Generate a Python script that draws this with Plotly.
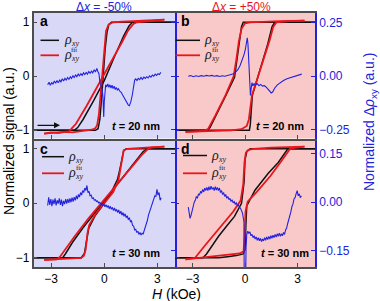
import plotly.graph_objects as go

# ---------------- data (H in kOe, normalized signal) ----------------
H_TICKS = [-3, 0, 3]
H_TICKTEXT = ["\u22123", "0", "3"]
LEFT_TICKS = [-1, 0, 1]
LEFT_TICKTEXT = ["\u22121", "0", "1"]
TOP_RIGHT_TICKS = [-0.25, 0.0, 0.25]
TOP_RIGHT_TICKTEXT = ["\u22120.25", "0.00", "0.25"]
BOT_RIGHT_TICKS = [-0.15, 0.0, 0.15]
BOT_RIGHT_TICKTEXT = ["\u22120.15", "0.00", "0.15"]

# panel a (t = 20 nm, dx = -50%)
A_BLK_STEEP = [(-4, -1), (-0.5, -1), (-0.35, -0.97), (-0.25, -0.8), (-0.15, -0.4), (-0.05, 0.1),
               (0.05, 0.5), (0.15, 0.8), (0.25, 0.95), (0.4, 1.0), (4, 1)]
A_BLK_SLANT = [(-4, -1), (-1.7, -1), (-1.5, -0.95), (-1.2, -0.8), (-0.6, -0.45), (0.0, -0.08),
               (0.6, 0.38), (1.1, 0.75), (1.4, 0.93), (1.6, 1.0), (4, 1)]
A_RED_STEEP = [(-3.4, -1.06), (-3.0, -1.04), (-2.6, -1.05), (-2.2, -1.03), (-1.8, -1.04), (-1.4, -1.02),
               (-1.0, -1.01), (-0.7, -0.99), (-0.5, -0.96), (-0.4, -0.9), (-0.3, -0.7), (-0.2, -0.3),
               (-0.1, 0.2), (0.0, 0.6), (0.1, 0.84), (0.25, 0.96), (0.5, 1.0), (1.0, 1.01), (1.5, 1.02),
               (2.0, 1.02), (2.5, 1.03), (3.0, 1.04), (3.4, 1.05)]
A_RED_SLANT = [(-3.4, -1.06), (-2.4, -1.04), (-2.0, -1.02), (-1.85, -0.97), (-1.6, -0.88), (-1.0, -0.55),
               (-0.4, -0.2), (0.0, 0.03), (0.5, 0.33), (1.0, 0.63), (1.35, 0.85), (1.65, 0.97),
               (1.85, 1.0), (2.4, 1.02), (3.0, 1.03), (3.4, 1.05)]
A_BLUE = [(-3.20, -0.040), (-3.12, -0.028), (-3.05, -0.042), (-2.97, -0.030), (-2.90, -0.036), (-2.82, -0.022),
          (-2.75, -0.033), (-2.67, -0.020), (-2.60, -0.030), (-2.52, -0.018), (-2.45, -0.026), (-2.37, -0.012),
          (-2.30, -0.022), (-2.22, -0.010), (-2.15, -0.018), (-2.07, -0.006), (-2.00, -0.015), (-1.92, -0.002),
          (-1.85, -0.010), (-1.77, 0.002), (-1.70, -0.006), (-1.62, 0.006), (-1.55, -0.002), (-1.47, 0.010),
          (-1.40, 0.002), (-1.32, 0.012), (-1.25, 0.004), (-1.17, 0.016), (-1.10, 0.008), (-1.02, 0.018),
          (-0.95, 0.010), (-0.87, 0.022), (-0.80, 0.014), (-0.72, 0.024), (-0.65, 0.016), (-0.57, 0.030),
          (-0.50, 0.020), (-0.42, 0.036), (-0.36, 0.022), (-0.30, 0.012), (-0.24, -0.030), (-0.18, -0.050),
          (-0.12, -0.060), (-0.07, -0.100), (-0.03, -0.190), (0.00, -0.120), (0.04, -0.060), (0.08, -0.040),
          (0.14, -0.050), (0.20, -0.036), (0.26, -0.052), (0.32, -0.040), (0.38, -0.055), (0.44, -0.042),
          (0.50, -0.058), (0.56, -0.046), (0.62, -0.062), (0.68, -0.052), (0.74, -0.064), (0.80, -0.058),
          (0.88, -0.070), (0.96, -0.075), (1.04, -0.088), (1.12, -0.100), (1.20, -0.112), (1.28, -0.125),
          (1.36, -0.135), (1.42, -0.138), (1.50, -0.120), (1.58, -0.090), (1.66, -0.050), (1.72, -0.018),
          (1.78, -0.012), (1.85, -0.020), (1.92, -0.010), (2.00, -0.016), (2.08, -0.006), (2.16, -0.014),
          (2.24, -0.004), (2.32, -0.010), (2.40, -0.002), (2.48, -0.008), (2.56, 0.002), (2.64, -0.004),
          (2.72, 0.006), (2.80, 0.000), (2.88, 0.010), (2.96, 0.004), (3.04, 0.012), (3.12, 0.008), (3.20, 0.018)]

# panel b (t = 20 nm, dx = +50%)
B_BLK_LEFT = [(-4, -1), (-2.15, -1), (-2.0, -0.95), (-1.6, -0.7), (-1.1, -0.36), (-0.6, -0.02), (-0.45, 0.3),
              (-0.3, 0.7), (-0.2, 0.92), (-0.1, 1.0), (4, 1)]
B_BLK_RIGHT = [(-4, -1), (0.25, -1), (0.3, -0.9), (0.35, -0.62), (0.42, -0.35), (0.7, -0.05), (1.0, 0.27),
               (1.3, 0.6), (1.55, 0.92), (1.7, 1.0), (4, 1)]
B_RED_LEFT = [(-3.4, -1.03), (-2.8, -1.02), (-2.3, -1.01), (-2.1, -0.97), (-1.7, -0.73), (-1.1, -0.34),
              (-0.65, 0.0), (-0.5, 0.3), (-0.35, 0.65), (-0.2, 0.88), (0.0, 0.98), (0.3, 1.0), (1.0, 1.01),
              (2.0, 1.02), (3.4, 1.03)]
B_RED_RIGHT = [(-3.4, -1.03), (-2.0, -1.02), (-0.8, -1.0), (-0.2, -0.98), (0.1, -0.92), (0.22, -0.8),
               (0.3, -0.6), (0.4, -0.35), (0.7, -0.05), (1.05, 0.3), (1.4, 0.66), (1.62, 0.92), (1.8, 1.0),
               (2.5, 1.02), (3.4, 1.03)]
B_BLUE = [(-3.24, 0.000), (-3.10, 0.003), (-2.95, -0.002), (-2.80, 0.002), (-2.65, -0.001), (-2.50, 0.003),
          (-2.35, 0.000), (-2.20, 0.004), (-2.05, 0.001), (-1.90, 0.004), (-1.75, 0.000), (-1.60, 0.003),
          (-1.45, -0.001), (-1.30, 0.002), (-1.15, 0.000), (-1.00, 0.003), (-0.85, 0.006), (-0.70, 0.010),
          (-0.55, 0.018), (-0.40, 0.032), (-0.28, 0.050), (-0.16, 0.075), (-0.06, 0.100), (0.02, 0.125),
          (0.08, 0.160), (0.13, 0.180), (0.17, 0.150), (0.22, 0.060), (0.27, -0.030), (0.31, -0.090),
          (0.35, -0.060), (0.40, -0.030), (0.45, -0.045), (0.52, -0.035), (0.60, -0.042), (0.70, -0.034),
          (0.80, -0.044), (0.90, -0.038), (1.00, -0.046), (1.10, -0.044), (1.20, -0.050), (1.30, -0.058),
          (1.40, -0.068), (1.50, -0.078), (1.58, -0.074), (1.70, -0.055), (1.85, -0.040), (2.00, -0.030),
          (2.20, -0.020), (2.40, -0.012), (2.60, -0.006), (2.80, -0.002), (3.00, 0.004), (3.24, 0.010)]

# panel c (t = 30 nm, dx = -50%)
C_BLK_INNER = [(-4, -1), (-1.3, -1), (-1.12, -0.92), (-1.0, -0.7), (-0.88, -0.46), (-0.5, -0.22), (0, 0.0),
               (0.4, 0.2), (0.75, 0.44), (0.9, 0.65), (1.0, 0.85), (1.1, 0.97), (1.25, 1.0), (4, 1)]
C_BLK_OUTER = [(-4, -1), (-2.35, -1), (-2.2, -0.93), (-1.8, -0.72), (-1.2, -0.45), (-0.6, -0.2), (0, 0.05),
               (0.6, 0.3), (1.2, 0.55), (1.8, 0.8), (2.2, 0.95), (2.45, 1.0), (4, 1)]
C_RED_INNER = [(-3.4, -1.04), (-2.6, -1.03), (-1.8, -1.02), (-1.3, -1.0), (-1.15, -0.96), (-1.05, -0.85),
               (-0.95, -0.55), (-0.85, -0.4), (-0.5, -0.2), (0, 0.0), (0.5, 0.2), (0.8, 0.42), (0.9, 0.6),
               (1.0, 0.85), (1.1, 0.97), (1.3, 1.0), (2.0, 1.02), (2.8, 1.03), (3.4, 1.04)]
C_RED_OUTER = [(-3.4, -1.04), (-2.7, -1.03), (-2.5, -0.98), (-2.2, -0.84), (-1.7, -0.62), (-0.9, -0.28),
               (0, 0.07), (0.8, 0.38), (1.5, 0.64), (2.1, 0.88), (2.45, 0.99), (2.65, 1.02), (3.4, 1.04)]
C_BLUE = [(-3.20, -0.010), (-3.14, 0.015), (-3.08, -0.008), (-3.02, 0.010), (-2.96, -0.012), (-2.90, 0.008),
          (-2.84, -0.006), (-2.78, 0.012), (-2.72, -0.010), (-2.66, 0.006), (-2.60, -0.004), (-2.54, 0.012),
          (-2.48, -0.008), (-2.42, 0.008), (-2.36, -0.012), (-2.30, 0.004), (-2.24, -0.006), (-2.18, 0.010),
          (-2.12, -0.004), (-2.06, 0.010), (-2.00, -0.002), (-1.94, 0.012), (-1.88, 0.000), (-1.82, 0.014),
          (-1.76, 0.002), (-1.70, 0.016), (-1.64, 0.006), (-1.58, 0.020), (-1.52, 0.010), (-1.46, 0.024),
          (-1.40, 0.016), (-1.34, 0.030), (-1.28, 0.022), (-1.22, 0.036), (-1.16, 0.030), (-1.10, 0.044),
          (-1.04, 0.036), (-0.98, 0.052), (-0.92, 0.030), (-0.86, 0.034), (-0.80, 0.020), (-0.74, 0.022),
          (-0.68, 0.012), (-0.62, 0.014), (-0.56, 0.006), (-0.50, 0.008), (-0.44, 0.002), (-0.38, 0.004),
          (-0.32, -0.002), (-0.26, 0.000), (-0.20, -0.006), (-0.14, -0.004), (-0.08, -0.010), (-0.02, -0.006),
          (0.04, -0.014), (0.10, -0.008), (0.16, -0.016), (0.22, -0.010), (0.28, -0.020), (0.34, -0.012),
          (0.40, -0.022), (0.46, -0.016), (0.52, -0.026), (0.58, -0.018), (0.64, -0.028), (0.70, -0.022),
          (0.76, -0.032), (0.82, -0.024), (0.88, -0.036), (0.94, -0.028), (1.00, -0.040), (1.06, -0.032),
          (1.12, -0.044), (1.18, -0.036), (1.24, -0.048), (1.30, -0.042), (1.36, -0.054), (1.42, -0.048),
          (1.48, -0.060), (1.54, -0.058), (1.60, -0.072), (1.66, -0.074), (1.72, -0.086), (1.78, -0.084),
          (1.84, -0.094), (1.90, -0.090), (1.96, -0.100), (2.02, -0.094), (2.08, -0.102), (2.14, -0.096),
          (2.20, -0.098), (2.26, -0.088), (2.32, -0.080), (2.38, -0.064), (2.44, -0.056), (2.50, -0.040),
          (2.56, -0.030), (2.62, -0.016), (2.68, -0.010), (2.74, 0.004), (2.80, 0.008), (2.86, 0.020),
          (2.92, 0.018), (2.98, 0.040), (3.04, 0.022), (3.10, 0.030), (3.16, 0.006), (3.22, 0.014)]

# panel d (t = 30 nm, dx = +50%)
D_BLK_LEFT = [(-4, -1), (-2.4, -1), (-2.2, -0.93), (-1.5, -0.6), (-1.0, -0.4), (-0.6, -0.24), (-0.2, 0.0),
              (-0.05, 0.4), (0.0, 0.8), (0.1, 0.95), (0.3, 1.0), (4, 1)]
D_BLK_RIGHT = [(-4, -1), (-1.5, -1), (-1.0, -0.98), (-0.5, -0.96), (-0.1, -0.93), (0.0, -0.85), (0.05, -0.4),
               (0.1, -0.05), (0.57, 0.24), (1.33, 0.55), (1.9, 0.75), (2.3, 0.92), (2.45, 1.0), (4, 1)]
D_RED_LEFT = [(-3.4, -1.03), (-3.1, -1.02), (-2.85, -1.0), (-2.3, -0.78), (-1.7, -0.55), (-1.2, -0.35),
              (-0.67, -0.15), (-0.25, 0.05), (-0.1, 0.35), (-0.03, 0.75), (0.05, 0.93), (0.2, 0.98),
              (0.5, 1.0), (1.5, 1.02), (2.5, 1.03), (3.4, 1.04)]
D_RED_RIGHT = [(-3.4, -1.03), (-2.5, -1.0), (-1.7, -0.98), (-1.0, -0.95), (-0.3, -0.92), (-0.08, -0.88),
               (-0.02, -0.6), (0.03, -0.15), (0.15, 0.03), (0.7, 0.22), (1.45, 0.5), (2.0, 0.74), (2.4, 0.93),
               (2.6, 1.01), (3.4, 1.04)]
D_BLUE = [(-3.24, -0.015), (-3.20, -0.035), (-3.14, -0.050), (-3.08, -0.040), (-3.02, -0.025), (-2.96, -0.012),
          (-2.90, 0.000), (-2.84, 0.006), (-2.78, 0.018), (-2.72, 0.012), (-2.66, 0.026), (-2.60, 0.022),
          (-2.54, 0.034), (-2.48, 0.028), (-2.42, 0.040), (-2.36, 0.032), (-2.30, 0.044), (-2.24, 0.036),
          (-2.18, 0.046), (-2.12, 0.036), (-2.06, 0.048), (-2.00, 0.038), (-1.94, 0.050), (-1.88, 0.040),
          (-1.82, 0.046), (-1.76, 0.036), (-1.70, 0.048), (-1.64, 0.038), (-1.58, 0.046), (-1.52, 0.036),
          (-1.46, 0.044), (-1.40, 0.030), (-1.34, 0.036), (-1.28, 0.024), (-1.22, 0.030), (-1.16, 0.018),
          (-1.10, 0.024), (-1.04, 0.012), (-0.98, 0.018), (-0.92, 0.008), (-0.86, 0.012), (-0.80, 0.002),
          (-0.74, 0.008), (-0.68, -0.002), (-0.62, 0.002), (-0.56, -0.006), (-0.50, -0.002), (-0.44, -0.010),
          (-0.38, -0.008), (-0.32, -0.016), (-0.26, -0.018), (-0.20, -0.026), (-0.14, -0.034), (-0.10, -0.048),
          (-0.06, -0.060), (-0.04, -0.300), (0.02, -0.300), (0.06, -0.140), (0.10, -0.100), (0.16, -0.090),
          (0.22, -0.096), (0.28, -0.092), (0.34, -0.104), (0.40, -0.100), (0.46, -0.110), (0.52, -0.104),
          (0.58, -0.114), (0.64, -0.108), (0.70, -0.118), (0.76, -0.110), (0.82, -0.120), (0.88, -0.112),
          (0.94, -0.122), (1.00, -0.114), (1.06, -0.120), (1.12, -0.110), (1.18, -0.118), (1.24, -0.108),
          (1.30, -0.116), (1.36, -0.106), (1.42, -0.114), (1.48, -0.104), (1.54, -0.112), (1.60, -0.102),
          (1.66, -0.110), (1.72, -0.100), (1.78, -0.108), (1.84, -0.098), (1.90, -0.106), (1.96, -0.096),
          (2.02, -0.106), (2.08, -0.098), (2.14, -0.104), (2.20, -0.094), (2.26, -0.100), (2.32, -0.086),
          (2.38, -0.080), (2.44, -0.066), (2.50, -0.056), (2.56, -0.040), (2.62, -0.030), (2.68, -0.014),
          (2.74, -0.006), (2.80, 0.010), (2.86, 0.014), (2.92, 0.026), (2.98, 0.036), (3.04, 0.020),
          (3.10, 0.026), (3.16, 0.014), (3.22, 0.020)]

PANEL_LABELS = ["a", "b", "c", "d"]
THICKNESS = ["20", "20", "30", "30"]

# ---------------- styling ----------------
W, HGT = 380, 301
FONT = "Liberation Sans, Arial, Helvetica, sans-serif"
SERIF = "Liberation Serif, Times New Roman, DejaVu Serif, serif"
BLACK = "#111111"
RED = "#e8161c"
BLUE = "#2222dd"
FRAME = "#4d4d4d"
LAV = "#d9d9f7"
PINK = "#f9c9c9"


def px(x):
    return x / W


def py(y):
    return 1 - y / HGT


fig = go.Figure()


def add(pts, xa, ya, color, width):
    fig.add_trace(go.Scatter(x=[p[0] for p in pts], y=[p[1] for p in pts], xaxis=xa, yaxis=ya,
                             mode="lines", line=dict(color=color, width=width),
                             showlegend=False, hoverinfo="skip"))


panels = [
    ("x", "y", "y2", [A_BLK_STEEP, A_BLK_SLANT], [A_RED_STEEP, A_RED_SLANT], A_BLUE),
    ("x2", "y3", "y4", [B_BLK_LEFT, B_BLK_RIGHT], [B_RED_LEFT, B_RED_RIGHT], B_BLUE),
    ("x3", "y5", "y6", [C_BLK_INNER, C_BLK_OUTER], [C_RED_INNER, C_RED_OUTER], C_BLUE),
    ("x4", "y7", "y8", [D_BLK_LEFT, D_BLK_RIGHT], [D_RED_LEFT, D_RED_RIGHT], D_BLUE),
]
for xa, ya, yb, blks, reds, blue in panels:
    for b in blks:
        add(b, xa, ya, BLACK, 1.5)
    for r in reds:
        add(r, xa, ya, RED, 1.8)
    add(blue, xa, yb, BLUE, 1.1)

xL = [px(33.5), px(175)]
xR = [px(175), px(315)]
yT = [py(138.5), py(12.5)]
yB = [py(267), py(141)]

TOP_L = [-1.152, 1.181]
TOP_R = [-0.291, 0.298]
BOT_L = [-1.169, 1.143]
BOT_R = [-0.201, 0.190]

tickfont = dict(family=FONT, size=12, color="black")
bluefont = dict(family=FONT, size=12, color=BLUE)


def xax(dom, anchor, labels):
    return dict(domain=dom, anchor=anchor, range=[-4, 4], tickvals=H_TICKS, ticktext=H_TICKTEXT,
                showticklabels=labels, ticks="inside", ticklen=4, tickwidth=1.2, tickcolor=FRAME,
                showline=True, linecolor=FRAME, linewidth=1.5, mirror=True, showgrid=False,
                zeroline=False, tickfont=tickfont, fixedrange=True)


def yleft(dom, anchor, rng, labels, showline, tcol):
    return dict(domain=dom, anchor=anchor, range=rng, tickvals=LEFT_TICKS, ticktext=LEFT_TICKTEXT,
                showticklabels=labels, ticks="inside", ticklen=4, tickwidth=1.2, tickcolor=tcol,
                showline=showline, linecolor=FRAME, linewidth=1.5, showgrid=False, zeroline=False,
                tickfont=tickfont, fixedrange=True)


def yright(over, anchor, rng, tv, tt, labels):
    return dict(overlaying=over, anchor=anchor, side="right", range=rng, tickvals=tv, ticktext=tt,
                showticklabels=labels, ticks="inside", ticklen=4, tickwidth=1.2, tickcolor=BLUE,
                showline=True, linecolor=BLUE, linewidth=1.5, showgrid=False, zeroline=False,
                tickfont=bluefont, fixedrange=True)


shapes = []
for xa, ya, col in [("x", "y", LAV), ("x2", "y3", PINK), ("x3", "y5", LAV), ("x4", "y7", PINK)]:
    shapes.append(dict(type="rect", xref=xa + " domain", yref=ya + " domain", x0=0, x1=1, y0=0, y1=1,
                       fillcolor=col, line=dict(width=0), layer="below"))

annotations = []


def note(x, y, text, size, color="black", family=FONT, xanchor="center", yanchor="middle", angle=0):
    annotations.append(dict(x=px(x), y=py(y), xref="paper", yref="paper", text=text, showarrow=False,
                            xanchor=xanchor, yanchor=yanchor, textangle=angle,
                            font=dict(family=family, size=size, color=color)))


# legend samples (pixel positions) for each panel: line x0, x1, black y, red y, text x
leg = [(40.5, 59, 40.3, 55.3, 61.5), (175.5, 200, 40.3, 55.3, 202),
       (42, 64, 156.7, 173.3, 66), (183, 207, 155.5, 173.3, 209)]
for (x0, x1, yb, yr, xt) in leg:
    shapes.append(dict(type="line", xref="paper", yref="paper", x0=px(x0), x1=px(x1), y0=py(yb), y1=py(yb),
                       line=dict(color=BLACK, width=1.5)))
    shapes.append(dict(type="line", xref="paper", yref="paper", x0=px(x0), x1=px(x1), y0=py(yr), y1=py(yr),
                       line=dict(color=RED, width=1.8)))
    for yy in (yb, yr):
        note(xt, yy - 0.5, "<i>ρ</i>", 14, "#222", SERIF, xanchor="left")
        note(xt + 7, yy + 3.5, "<i>xy</i>", 8, "#222", SERIF, xanchor="left")
    note(xt + 7.5, yr - 5, "fit", 7, "#222", SERIF, xanchor="left")

label_pos = [(44, 21.5), (185.5, 21), (44, 149), (185.5, 148.5)]
for lab, (lx, ly) in zip(PANEL_LABELS, label_pos):
    note(lx, ly, "<b>%s</b>" % lab, 14)

t_pos = [(135.5, 126), (280, 126), (136, 252.5), (284.5, 253)]
for th, (tx, ty) in zip(THICKNESS, t_pos):
    note(tx, ty, "<b><i>t</i> = %s nm</b>" % th, 11)

note(104, 7.5, "Δ<i>x</i> = -50%", 12, BLUE)
note(241, 7.5, "Δ<i>x</i> = +50%", 12, RED)
note(9, 141, "Normalized signal (a.u.)", 14, angle=-90)
note(370, 122, "Normalized Δ<i>ρ</i><sub>xy</sub> (a.u.)", 14, BLUE, angle=-90)
note(176, 293.5, "<i>H</i> (kOe)", 14)

annotations.append(dict(x=px(60), y=py(125.3), xref="paper", yref="paper", ax=-24, ay=0, text="",
                        showarrow=True, arrowhead=2, arrowsize=1, arrowwidth=1.2, arrowcolor=BLACK))

fig.update_layout(
    width=W, height=HGT, margin=dict(l=0, r=0, t=0, b=0),
    paper_bgcolor="white", plot_bgcolor="rgba(0,0,0,0)", showlegend=False,
    font=dict(family=FONT, size=12),
    xaxis=xax(xL, "y", False), xaxis2=xax(xR, "y3", False),
    xaxis3=xax(xL, "y5", True), xaxis4=xax(xR, "y7", True),
    yaxis=yleft(yT, "x", TOP_L, True, True, FRAME),
    yaxis2=yright("y", "x", TOP_R, TOP_RIGHT_TICKS, TOP_RIGHT_TICKTEXT, False),
    yaxis3=yleft(yT, "x2", TOP_L, False, False, BLUE),
    yaxis4=yright("y3", "x2", TOP_R, TOP_RIGHT_TICKS, TOP_RIGHT_TICKTEXT, True),
    yaxis5=yleft(yB, "x3", BOT_L, True, True, FRAME),
    yaxis6=yright("y5", "x3", BOT_R, BOT_RIGHT_TICKS, BOT_RIGHT_TICKTEXT, False),
    yaxis7=yleft(yB, "x4", BOT_L, False, False, BLUE),
    yaxis8=yright("y7", "x4", BOT_R, BOT_RIGHT_TICKS, BOT_RIGHT_TICKTEXT, True),
    shapes=shapes, annotations=annotations,
)

fig.write_html("out.html", config=dict(displayModeBar=False),
               post_script="document.body.style.margin='0px';document.body.style.overflow='hidden';")
